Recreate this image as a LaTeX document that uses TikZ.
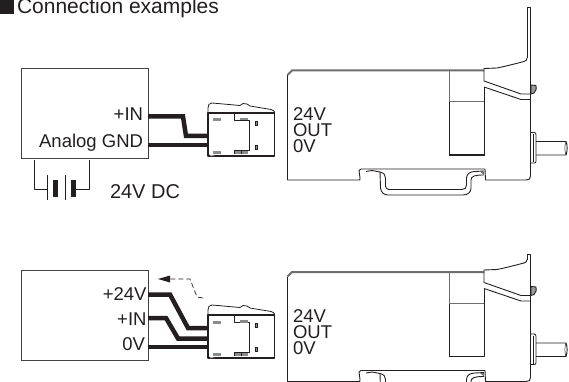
\documentclass[tikz,border=0pt]{standalone}
\usepackage{fontspec}
\setmainfont{Liberation Sans}
\definecolor{ink}{HTML}{231F20}
\definecolor{midgray}{HTML}{6D6E71}
\tikzset{
  x=1pt,y=-1pt,
  every node/.style={inner sep=0pt,outer sep=0pt,text=ink,font=\fontsize{18.5}{18.5}\selectfont},
  lbl/.style={anchor=base east},
  lbll/.style={anchor=base west},
  ln/.style={draw=ink,line width=0.9pt,line join=round},
  thin ln/.style={draw=ink,line width=0.6pt,line join=round},
  gr/.style={draw=midgray,line width=1pt},
  boxnode/.style={draw=ink!85,line width=1pt,anchor=north west},
  wire/.style={draw=ink,line width=4.5pt,line join=miter},
  pics/connector/.style={code={
    % cover
    \draw[thin ln,line width=0.8pt,fill=white] (0,0) -- (0,-5) .. controls (0,-8) and (1,-10) .. (4,-10) -- (32,-7.5) -- (35,-9.5) -- (39,-9) -- (42,-7) -- (63,-3.5) .. controls (65,-3) and (66,-2) .. (66.5,-1) -- (66.5,0);
    % housing
    \draw[ln,line width=1.1pt,fill=white] (0,0) rectangle (66.5,43);
    \draw[thin ln] (0,-0.3) -- (66.5,-0.3);
    \draw[thin ln] (26.5,0) -- (26.5,7.5) -- (41.5,7.5) -- (41.5,37.5) -- (26.5,37.5) -- (26.5,41);
    \fill[midgray!80] (4.5,5.5) rectangle (12.5,8.5);
    \fill[midgray!80] (32,5) rectangle (40,7.5);
    \fill[midgray!80] (4.5,38) rectangle (12.5,41);
    \fill[midgray!80] (27,38) rectangle (40,41);
    \draw[ink,line width=0.5pt] (33.5,38) -- (33.5,41);
    \fill[midgray!80,draw=ink,line width=0.4pt] (47.5,8) rectangle (49.5,12);
    \fill[midgray!80,draw=ink,line width=0.4pt] (47.5,32) rectangle (49.5,36);
    \draw[ln,fill=white] (0,41) -- (2,43) -- (7,43);
  }},
  pics/device/.style={code={
    % main outline
    \draw[ln] (287.5,75) -- (287.5,180) -- (359,180) .. controls (360,180) .. (360,178) -- (359,170.5) -- (361,169) -- (485,169) -- (485.5,180) -- (526,180) .. controls (529,180) and (530.5,179) .. (530.5,176) -- (530.5,61);
    % thick top edge with chamfer
    \draw[midgray,line width=2pt] (287.5,75) -- (292,70.5) -- (484,70.5);
    % window
    \draw[gr] (449,71) -- (449,102);
    \draw[ln] (449,102) -- (449,155) -- (484,155) -- (484,87);
    \draw[ink,line width=1.6pt] (449,155) -- (484,155);
    \draw[gr] (449,102) -- (484,102);
    % flange
    \draw[ln] (484,68.5) -- (497,68) .. controls (507,66) and (518,63) .. (524,61.5) .. controls (526,61) and (527,60) .. (527,58);
    \draw[ln] (484,68) -- (484,81) -- (521,94) -- (530.5,94);
    \draw[ln] (484,87) -- (521,99.5) -- (530.5,99.5);
    \draw[ln,fill=midgray!70] (531,85) -- (536,85.5) .. controls (537,88) and (536,91) .. (534,93) -- (531,94) -- cycle;
    % shaft
    \draw[ln,line width=0.8pt] (531,132.5) -- (534,132.5) .. controls (535.5,132.5) and (536,133.5) .. (536,135) -- (536,161) .. controls (536,162.5) and (535.5,163) .. (534,163) -- (531,163);
    \draw[ln,line width=0.6pt] (533,134) -- (533,162);
    \draw[ln] (536,141.5) -- (566,141.5) .. controls (567.5,144) and (567.5,152) .. (566,155) -- (536,155);
    \draw[ln,line width=0.5pt] (566,141.5) .. controls (564.5,145) and (564.5,151) .. (566,155);
    % DIN rail
    \draw[ln] (366,171.5) -- (372,170.5) -- (380,172) .. controls (384,173) and (385.5,175) .. (385.5,178) -- (385.5,186) .. controls (385.5,188) and (387,189.5) .. (389,189.5) -- (462,189.5) .. controls (465,189.5) and (466.5,188) .. (466.5,185) -- (466.5,178) .. controls (466.5,174) and (470,171.5) .. (475,171.5) -- (484,171);
    \draw[ln] (380,172) -- (380.5,188) .. controls (381,192.5) and (384,195) .. (388,195) -- (463,195) .. controls (468,195) and (471,192) .. (471,188) -- (471,180) .. controls (471,176) and (475,175) .. (484,175);
    \fill[midgray] (480,171.5) -- (484,171.5) -- (484,175) -- cycle;
    % labels
    \node[lbll] at (293,121) {24V};
    \node[lbll] at (293,137) {OUT};
    \node[lbll] at (293,153) {0V};
  }}
}
\begin{document}
\begin{tikzpicture}
\clip (0,0) rectangle (569,382);
\fill[white] (0,0) rectangle (569,382);
% title
\fill[ink] (0,0) rectangle (14,14);
\node[lbll,font=\fontsize{21}{21}\selectfont] (title) at (17,14) {Connection examples};

% ---- top row
\node[boxnode,minimum width=126.5pt,minimum height=89pt] (boxa) at (21.5,69) {};
\node[lbl] (ain) at (143,121) {+IN};
\node[lbl] (agnd) at (143,147) {Analog GND};
\pic (conna) at (208,113) {connector};
\coordinate (a1s) at (148,116.5);
\coordinate (a1e) at (208,136);
\coordinate (a2s) at (148,145);
\coordinate (a2e) at (208,145);
\draw[wire] (a1s) -- (183,116.5) -- (186,136) -- (a1e);
\draw[wire,line width=4.2pt] (a2s) -- (a2e);
% battery
\coordinate (batl) at (34,160);
\coordinate (batr) at (89,160);
\draw[thin ln] (batl) -- (34,189) -- (47.7,189);
\draw[thin ln] (47.7,175) -- (47.7,200);
\fill[ink] (53,180) rectangle (58,197);
\draw[thin ln] (65,175) -- (65,200);
\fill[ink] (71,180) rectangle (76,197);
\draw[thin ln] (76,189) -- (89,189) -- (batr);
\node[lbll,font=\fontsize{20}{20}\selectfont] (dc) at (110,198) {24V DC};
% device top
\pic (deva) at (0,0) {device};
\draw[ln] (527,58) -- (527,7) -- (530.5,7) -- (530.5,61);

% ---- bottom row
\node[boxnode,minimum width=126.5pt,minimum height=90pt] (boxb) at (21.5,270.5) {};
\node[lbl] (b24) at (146.5,300) {+24V};
\node[lbl] (bin) at (146.5,325.7) {+IN};
\node[lbl] (b0) at (145,350.7) {0V};
\pic (connb) at (208,315) {connector};
\coordinate (b1s) at (148,294.5);
\coordinate (b1e) at (208,328);
\coordinate (b2s) at (148,318);
\coordinate (b2e) at (208,338.5);
\coordinate (b3s) at (148,347);
\coordinate (b3e) at (208,347);
\draw[wire] (b1s) -- (170,294.5) -- (188,328) -- (b1e);
\draw[wire] (b2s) -- (166,318) -- (178,338.5) -- (b2e);
\draw[wire] (b3s) -- (b3e);
% dashed arrow
\coordinate (dstart) at (203,298);
\coordinate (dtip) at (158,279);
\draw[thin ln,line width=0.7pt,dash pattern=on 5pt off 3pt] (dstart) -- (197,297) -- (190,279) -- (170,279);
\fill[ink] (dtip) -- (170,275.5) -- (170,282.5) -- cycle;
% device bottom
\begin{scope}[yshift=-201.5pt]
\pic (devb) at (0,0) {device};
\draw[ln] (527,58) -- (527,52.5) -- (530.5,52.5) -- (530.5,61);
\end{scope}
\end{tikzpicture}
\end{document}
